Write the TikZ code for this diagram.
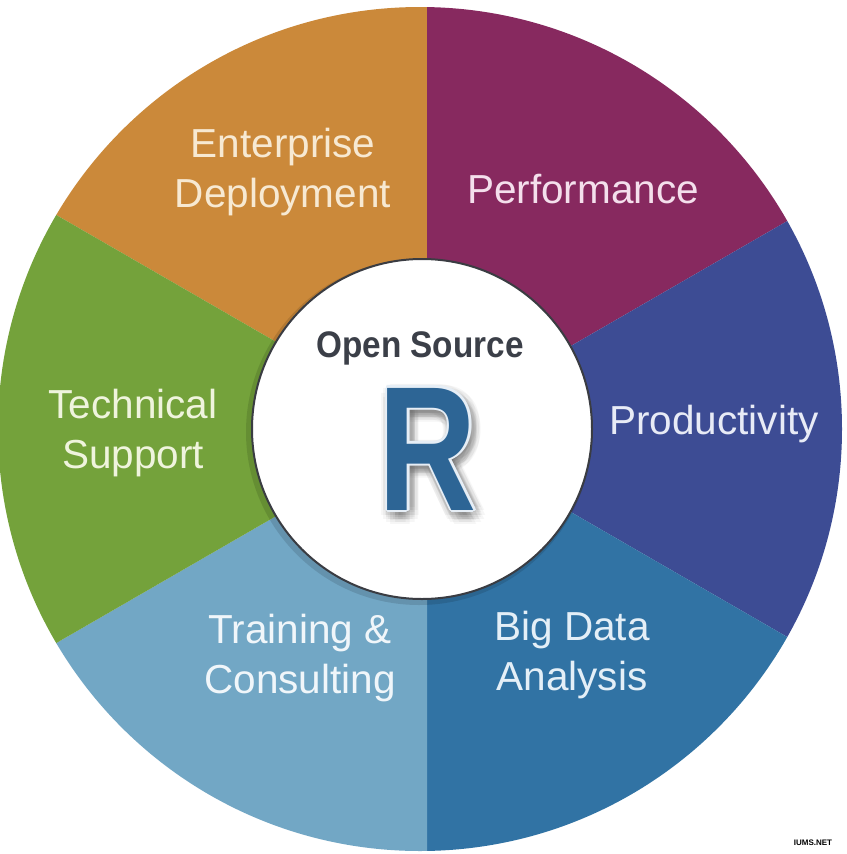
\documentclass[tikz,border=0pt]{standalone}
\usepackage{fontspec}
\usepackage{graphicx}
\setmainfont{Liberation Sans}
\usetikzlibrary{calc}
\definecolor{cOrange}{HTML}{CB893A}
\definecolor{cPurple}{HTML}{87295F}
\definecolor{cNavy}{HTML}{3D4C94}
\definecolor{cBlue}{HTML}{3173A4}
\definecolor{cLight}{HTML}{72A7C5}
\definecolor{cGreen}{HTML}{74A23B}
\definecolor{tOrange}{HTML}{F7E9D2}
\definecolor{tPurple}{HTML}{F4DFEC}
\definecolor{tNavy}{HTML}{E8EBF6}
\definecolor{tBlue}{HTML}{E4EFF7}
\definecolor{tLight}{HTML}{F0F6FA}
\definecolor{tGreen}{HTML}{EFF4DD}
\definecolor{cRing}{HTML}{3A3C42}
\definecolor{cOS}{HTML}{3B3F48}
\definecolor{cR}{HTML}{2D6595}
\definecolor{cROut}{HTML}{E6EEF6}
\begin{document}
\begin{tikzpicture}[x=1pt,y=-1pt,
  lbl/.style={font=\fontsize{40.5}{50}\selectfont, align=center, inner sep=0pt},
  bigR/.style={inner sep=0pt, font=\bfseries}]
\useasboundingbox (0,0) rectangle (846,854);
\fill[white] (0,0) rectangle (846,854);
\coordinate (P) at (427,429);
\coordinate (C) at (420,429);
\begin{scope}
  \clip (C) circle (422pt);
  \fill[cOrange] (P) -- ([shift={(-90:800)}]P) -- ([shift={(-150:800)}]P) -- cycle;
  \fill[cPurple] (P) -- ([shift={(-30:800)}]P) -- ([shift={(-90:800)}]P) -- cycle;
  \fill[cNavy]   (P) -- ([shift={(30:800)}]P) -- ([shift={(-30:800)}]P) -- cycle;
  \fill[cBlue]   (P) -- ([shift={(90:800)}]P) -- ([shift={(30:800)}]P) -- cycle;
  \fill[cLight]  (P) -- ([shift={(150:800)}]P) -- ([shift={(90:800)}]P) -- cycle;
  \fill[cGreen]  (P) -- ([shift={(-150:800)}]P) -- ([shift={(150:800)}]P) -- cycle;
\end{scope}
% hub
\fill[black, opacity=0.12] (419,432) circle (173pt);
\node[circle, draw=cRing, line width=2pt, fill=white, minimum size=340pt, inner sep=0pt] (hub) at (422,429) {};
% labels
\node[lbl, text=tOrange] (ent) at (283,172) {Enterprise\\Deployment};
\node[lbl, text=tPurple] (perf) at (583,189) {Performance};
\node[lbl, text=tNavy] (prod) at (714,424) {Productivity};
\node[lbl, text=tBlue] (big) at (572,655) {Big Data\\Analysis};
\node[lbl, text=tLight] (train) at (300,658) {Training \&\\Consulting};
\node[lbl, text=tGreen] (tech) at (133,433) {Technical\\Support};
% open source
\node[inner sep=0pt, text=cOS, font=\fontsize{37}{40}\selectfont\bfseries] (os) at (420,348) {\scalebox{0.9}[1]{Open Source}};
% R with shadow and outline
\coordinate (Rc) at (428,449);
\foreach \a in {0,30,...,330}{
  \node[bigR, text=black, opacity=0.035] (rsa\a) at ($(Rc)+(\a:9)+(3,5)$) {\resizebox{98pt}{122pt}{R}};
  \node[bigR, text=black, opacity=0.04] (rsb\a) at ($(Rc)+(\a:5)+(3,5)$) {\resizebox{98pt}{122pt}{R}};
}
\foreach \a in {0,45,...,315}{
  \node[bigR, text=cROut] (ro\a) at ($(Rc)+(\a:2.2)$) {\resizebox{98pt}{122pt}{R}};
}
\node[bigR, text=cR] (R) at (Rc) {\resizebox{98pt}{122pt}{R}};
% watermark
\node[inner sep=0pt, font=\fontsize{8}{8}\selectfont\bfseries, text=black] (wm) at (813,843) {IUMS.NET};
\end{tikzpicture}
\end{document}
